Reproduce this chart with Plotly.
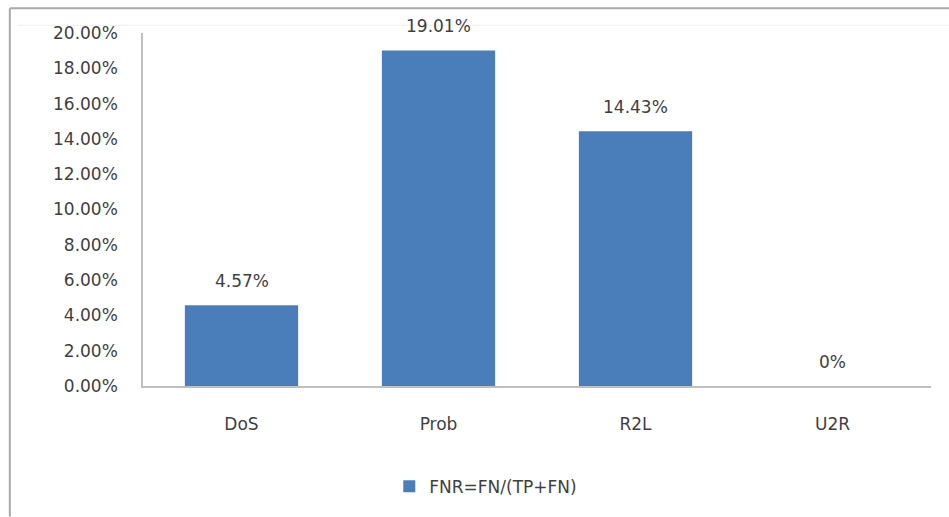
import plotly.graph_objects as go

# Attack categories and their false negative rates (percent)
categories = ["DoS", "Prob", "R2L", "U2R"]
fnr_values = [4.57, 19.01, 14.43, 0.0]
series_name = "FNR=FN/(TP+FN)"
y_ticks = [0, 2, 4, 6, 8, 10, 12, 14, 16, 18, 20]

BAR_COLOR = "#4A7EBB"
TEXT_COLOR = "#3F3F3F"
FONT = "DejaVu Sans, Verdana, sans-serif"
FONT_SIZE = 17


def pct_label(v):
    return "0%" if v == 0 else f"{v:.2f}%"


fig = go.Figure()
fig.add_trace(go.Bar(
    x=categories,
    y=fnr_values,
    name=series_name,
    marker=dict(color=BAR_COLOR, line=dict(width=0)),
    width=0.575,
    showlegend=True,
))

# Value labels floating above each bar
for cat, v in zip(categories, fnr_values):
    fig.add_annotation(
        x=cat, y=v, text=pct_label(v),
        showarrow=False, yanchor="middle", yshift=24,
        font=dict(family=FONT, size=FONT_SIZE, color=TEXT_COLOR),
    )

# Outer frame of the chart (top and left edges)
frame = dict(type="line", xref="paper", yref="paper",
             line=dict(color="#A8A8A8", width=2), layer="above")
fig.add_shape(**frame, x0=-0.169, x1=1.03, y0=1.070, y1=1.070)
fig.add_shape(**frame, x0=-0.169, x1=-0.169, y0=1.070, y1=-0.37)
fig.add_shape(type="line", xref="paper", yref="paper",
              line=dict(color="#EDEDED", width=1),
              x0=-0.16, x1=1.03, y0=1.022, y1=1.022)

fig.update_layout(
    width=949,
    height=517,
    margin=dict(l=143, r=18, t=33, b=128),
    paper_bgcolor="white",
    plot_bgcolor="white",
    font=dict(family=FONT, size=FONT_SIZE, color=TEXT_COLOR),
    bargap=0.425,
    legend=dict(
        orientation="h",
        x=0.435, xanchor="center",
        y=-0.285, yanchor="middle",
        font=dict(family=FONT, size=FONT_SIZE, color=TEXT_COLOR),
        itemwidth=30,
    ),
    xaxis=dict(
        showline=True,
        linecolor="#BFBFBF",
        linewidth=1.5,
        ticks="",
        showgrid=False,
        tickfont=dict(family=FONT, size=FONT_SIZE, color=TEXT_COLOR),
        ticklabelstandoff=22,
    ),
    yaxis=dict(
        range=[0, 20],
        tickvals=y_ticks,
        ticktext=[f"{v:.2f}%" for v in y_ticks],
        showline=True,
        linecolor="#BFBFBF",
        linewidth=1.5,
        showgrid=False,
        zeroline=False,
        ticks="",
        tickfont=dict(family=FONT, size=FONT_SIZE, color=TEXT_COLOR),
        ticklabelstandoff=20,
    ),
)

fig.write_html("out.html")
